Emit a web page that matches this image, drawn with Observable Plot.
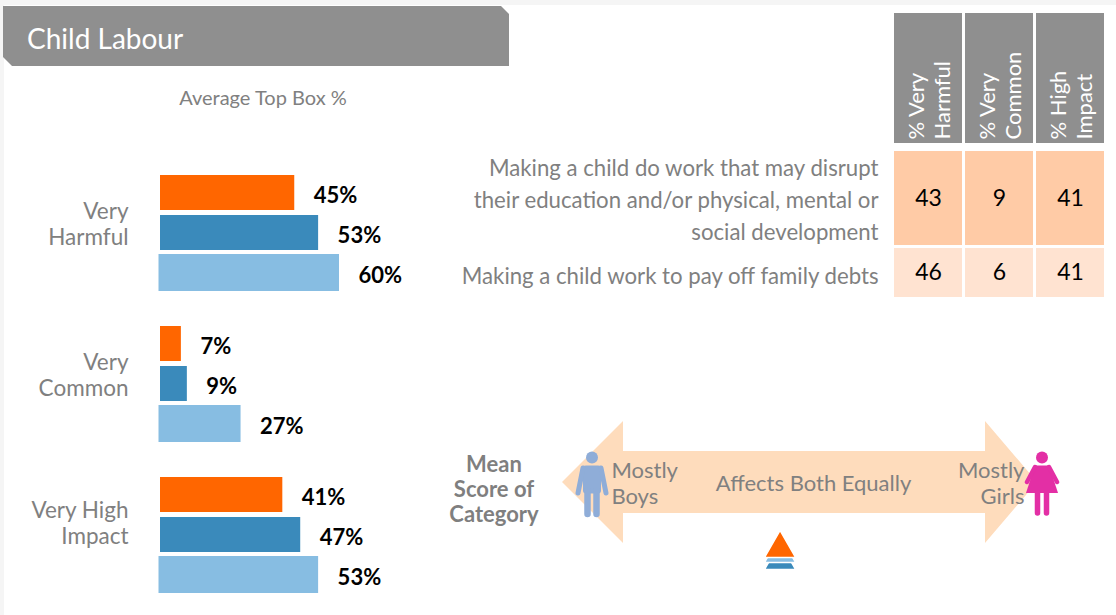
<!DOCTYPE html>
<html>
<head>
<meta charset="utf-8">
<script src="https://cdn.jsdelivr.net/npm/d3@7"></script>
<script src="https://cdn.jsdelivr.net/npm/@observablehq/plot@0.6"></script>
<style>
  html, body { margin: 0; padding: 0; background: #fff; }
  body { width: 1116px; height: 615px; position: relative; overflow: hidden; font-family: Lato, sans-serif; color: #808080; }
  .abs { position: absolute; }
  #topstrip { left: 0; top: 0; width: 1116px; height: 5px; background: #f5f5f5; }
  #leftstrip { left: 0; top: 0; width: 4px; height: 615px; background: #f5f5f5; }
  #banner { left: 3px; top: 6px; width: 506px; height: 60px; background: #8f8f8f;
    clip-path: polygon(0 0, 498px 0, 506px 8px, 506px 60px, 9px 60px, 0 51px); }
  #title { left: 27px; top: 20px; font-size: 28px; color: #fff; line-height: 36px; }
  #subtitle { left: 131px; width: 264px; top: 85px; font-size: 20px; line-height: 24px; text-align: center; }
  #arrow { left: 562px; top: 421px; width: 475px; height: 122px; background: #fedcbc;
    clip-path: polygon(0 61px, 61px 0, 61px 30px, 423px 30px, 423px 0, 475px 61px, 423px 122px, 423px 92px, 61px 92px, 61px 122px); }
  #meanlabel { left: 434px; width: 120px; top: 451px; font-size: 22px; line-height: 25px; font-weight: 700; text-align: center; color: #7f7f7f; }
</style>
</head>
<body>
<div class="abs" id="topstrip"></div>
<div class="abs" id="leftstrip"></div>
<div class="abs" id="banner"></div>
<div class="abs" id="title">Child Labour</div>
<div class="abs" id="subtitle">Average Top Box %</div>
<div class="abs" id="arrow"></div>
<div class="abs" id="meanlabel">Mean<br>Score of<br>Category</div>
<svg class="abs" style="left:575px;top:451px" width="34" height="67" viewBox="0 0 34 67">
  <g fill="#8fadd8" stroke="#8fadd8" stroke-linecap="round">
    <circle cx="17" cy="6.5" r="6" stroke="none"/>
    <rect x="8" y="14.5" width="18" height="28" rx="3" stroke="none"/>
    <path d="M8 17 L3 42 M26 17 L31 42" stroke-width="5" fill="none"/>
    <path d="M12.5 40 V63 M21.5 40 V63" stroke-width="6.5" fill="none"/>
  </g>
</svg>
<svg class="abs" style="left:1024px;top:451px" width="36" height="66" viewBox="0 0 36 66">
  <g fill="#e32fa5" stroke="#e32fa5" stroke-linecap="round">
    <circle cx="18" cy="6.5" r="6" stroke="none"/>
    <path d="M11 14.5 H25 L34 42 H2 Z" stroke="none"/>
    <path d="M11 16 L3 31 M25 16 L33 31" stroke-width="4.5" fill="none"/>
    <path d="M13.5 42 V62 M22.5 42 V62" stroke-width="5.5" fill="none"/>
  </g>
</svg>
<script>
// ---- Bars: average top box %
const groups = ["Very\nHarmful", "Very\nCommon", "Very High\nImpact"];
const seriesNames = ["First", "Second", "Third"];
const seriesColors = ["#ff6600", "#3a8abb", "#87bde2"];
const veryHarmful = [45, 53, 60];
const veryCommon = [7, 9, 27];
const veryHighImpact = [41, 47, 53];

// ---- Table
const tableColumns = ["% Very\nHarmful", "% Very\nCommon", "% High\nImpact"];
const rowLabelDisrupt = "Making a child do work that may disrupt\ntheir education and/or physical, mental or\nsocial development";
const rowLabelDebts = "Making a child work to pay off family debts";
const rowValuesDisrupt = [43, 9, 41];
const rowValuesDebts = [46, 6, 41];

// ---- Boys / girls scale
const scaleLabelBoys = "Mostly\nBoys";
const scaleLabelBoth = "Affects Both Equally";
const scaleLabelGirls = "Mostly\nGirls";
const scaleScores = [-79.4, 5.7, 94.5];
const meanScores = [-8.4, -8.4, -8.4];

const barRows = groups.flatMap((g, i) => {
  const vals = [veryHarmful, veryCommon, veryHighImpact][i];
  return seriesNames.map((s, j) => ({group: g, series: s, value: vals[j]}));
});
const only = s => barRows.filter(d => d.series === s);
const barOpts = {x: "value", y: "series", fy: "group", fill: "series"};

const place = (node, left, top) => {
  node.style.position = "absolute";
  node.style.left = left + "px";
  node.style.top = top + "px";
  document.body.appendChild(node);
};

const groupText = {fy: d => d, text: d => d, frameAnchor: "left", textAnchor: "end", dx: -32,
  fontSize: 22.5, lineHeight: 1.17, fill: "#808080"};
place(Plot.plot({
  width: 440, height: 615,
  marginLeft: 160, marginRight: 0, marginTop: 175, marginBottom: 22,
  style: {background: "transparent", overflow: "visible", fontFamily: "Lato, sans-serif"},
  x: {domain: [0, 60], range: [160, 339], axis: null},
  y: {domain: seriesNames, axis: null, paddingInner: 0.118, paddingOuter: 0},
  fy: {domain: groups, paddingInner: 0.232, paddingOuter: 0, axis: null},
  color: {domain: seriesNames, range: seriesColors},
  marks: [
    Plot.barX(only("First"), barOpts),
    Plot.barX(only("Second"), barOpts),
    Plot.barX(only("Third"), {...barOpts, insetLeft: -1.5, insetTop: -1, insetBottom: -1}),
    Plot.text(barRows, {x: "value", y: "series", fy: "group", text: d => d.value + "%",
      textAnchor: "start", dx: 19, dy: 2.5, fontSize: 22, fontWeight: 700, fill: "#000"}),
    Plot.text(groups.slice(0, 2), {...groupText, dy: -10}),
    Plot.text(groups.slice(2), {...groupText, dy: -13})
  ]
}), 0, 0);

const tableX = {domain: tableColumns, axis: null, paddingInner: 0.04, paddingOuter: 0};
const tableMargins = {marginLeft: 893, marginRight: 11, marginTop: 0, marginBottom: 0};
const tableStyle = {background: "transparent", overflow: "visible", fontFamily: "Lato, sans-serif"};

place(Plot.plot({
  width: 1116, height: 130, ...tableMargins, style: tableStyle, x: tableX,
  y: {domain: ["header"], axis: null, padding: 0},
  marks: [
    Plot.cell(tableColumns, {x: d => d, y: () => "header", fill: "#8f8f8f"}),
    Plot.text(tableColumns, {x: d => d, y: () => "header", text: d => d, rotate: -90, textAnchor: "start",
      dy: 61, fontSize: 22, lineHeight: 1.2, fill: "#fff"})
  ]
}), 0, 13);

const tableRow = (label, values, fill, height, top, dy) => {
  const rows = tableColumns.map((c, i) => ({column: c, row: label, value: values[i]}));
  place(Plot.plot({
    width: 1116, height, ...tableMargins, style: tableStyle, x: tableX,
    y: {domain: [label], axis: null, padding: 0},
    marks: [
      Plot.cell(rows, {x: "column", y: "row", fill}),
      Plot.text(rows, {x: "column", y: "row", text: "value", fontSize: 23, fill: "#000"}),
      Plot.axisY({anchor: "left", tickSize: 0, tickPadding: 15, fontSize: 22.2, lineHeight: 1.45,
        dy, fill: "#808080", label: null})
    ]
  }), 0, top);
};
tableRow(rowLabelDisrupt, rowValuesDisrupt, "#ffcba6", 94, 151, -1);
tableRow(rowLabelDebts, rowValuesDebts, "#ffe3d1", 49, 248, 1);

const markerStyle = {x: d => d, frameAnchor: "top", symbol: "triangle", r: 11.6, stroke: "#fff", strokeWidth: 1.5};
const scaleText = {frameAnchor: "top", lineAnchor: "middle", dy: 72, fontSize: 22, lineHeight: 1.2, fill: "#808080"};
place(Plot.plot({
  width: 1116, height: 170, marginLeft: 0, marginRight: 0, marginTop: 0, marginBottom: 0,
  style: {background: "transparent", overflow: "visible", fontFamily: "Lato, sans-serif"},
  x: {domain: [-100, 100], range: [562, 1037], axis: null},
  marks: [
    Plot.text([scaleLabelBoys], {...scaleText, x: () => scaleScores[0], text: d => d, textAnchor: "start"}),
    Plot.text([scaleLabelBoth], {...scaleText, x: () => scaleScores[1], text: d => d, textAnchor: "middle"}),
    Plot.text([scaleLabelGirls], {...scaleText, x: () => scaleScores[2], text: d => d, textAnchor: "end"}),
    Plot.dot(meanScores.slice(2), {...markerStyle, fill: "#3a8abb", dy: 150}),
    Plot.dot(meanScores.slice(1, 2), {...markerStyle, fill: "#87bde2", dy: 143}),
    Plot.dot(meanScores.slice(0, 1), {...markerStyle, fill: "#ff6600", dy: 138})
  ]
}), 0, 410);
</script>
</body>
</html>
